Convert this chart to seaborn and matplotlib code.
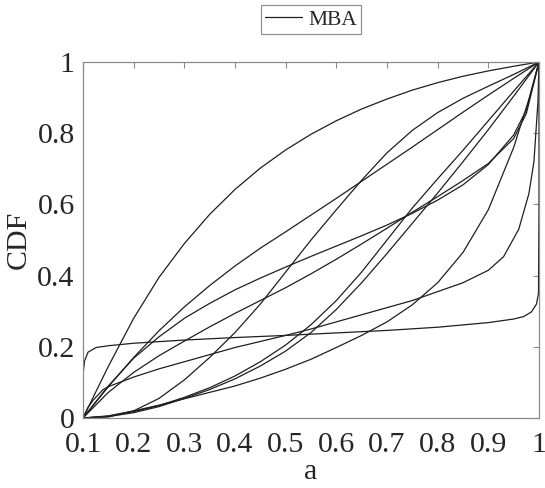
import matplotlib
matplotlib.use("Agg")
import matplotlib.pyplot as plt
from matplotlib.lines import Line2D
import seaborn as sns
import pandas as pd

# ---- data ----
x_grid = [0.1, 0.15, 0.2, 0.25, 0.3, 0.35, 0.4, 0.45, 0.5, 0.55,
          0.6, 0.65, 0.7, 0.75, 0.8, 0.85, 0.9, 0.95, 1.0]

cdf_a = [0, 0.145, 0.28, 0.395, 0.49, 0.572, 0.642, 0.702, 0.753, 0.797,
         0.835, 0.868, 0.896, 0.921, 0.942, 0.96, 0.975, 0.988, 1.0]
cdf_e = [0, 0.088, 0.17, 0.245, 0.312, 0.372, 0.427, 0.477, 0.523, 0.57,
         0.617, 0.665, 0.713, 0.761, 0.81, 0.859, 0.907, 0.954, 1.0]
cdf_i = [0, 0.003, 0.02, 0.055, 0.107, 0.17, 0.24, 0.32, 0.41, 0.50,
         0.585, 0.668, 0.745, 0.808, 0.858, 0.898, 0.932, 0.965, 1.0]
cdf_j = [0, 0.005, 0.018, 0.035, 0.058, 0.085, 0.118, 0.158, 0.205, 0.262,
         0.33, 0.41, 0.5, 0.59, 0.672, 0.752, 0.835, 0.918, 1.0]
cdf_k = [0, 0.004, 0.015, 0.032, 0.055, 0.08, 0.11, 0.146, 0.188, 0.24,
         0.305, 0.38, 0.462, 0.547, 0.632, 0.72, 0.81, 0.904, 1.0]

x_fg = [0.1, 0.15, 0.2, 0.25, 0.3, 0.35, 0.4, 0.45, 0.5, 0.55, 0.6, 0.65,
        0.7, 0.75, 0.8, 0.85, 0.9, 0.95, 0.975, 1.0]
cdf_f = [0, 0.09, 0.168, 0.228, 0.28, 0.322, 0.36, 0.393, 0.424, 0.454,
         0.483, 0.512, 0.542, 0.575, 0.612, 0.655, 0.712, 0.795, 0.865, 1.0]
cdf_g = [0, 0.072, 0.128, 0.175, 0.216, 0.256, 0.294, 0.33, 0.366, 0.405,
         0.446, 0.489, 0.533, 0.578, 0.622, 0.667, 0.715, 0.785, 0.855, 1.0]

x_b = [0.1, 0.1, 0.103, 0.11, 0.126, 0.15, 0.2, 0.3, 0.4, 0.5, 0.6, 0.7,
       0.8, 0.9, 0.95, 0.97, 0.985, 0.995, 0.999, 1.0, 1.0]
cdf_b = [0, 0.12, 0.16, 0.185, 0.198, 0.203, 0.21, 0.219, 0.226, 0.232,
         0.239, 0.246, 0.255, 0.268, 0.278, 0.285, 0.298, 0.32, 0.35, 0.6, 1.0]

x_h = [0.1, 0.11, 0.12, 0.139, 0.15, 0.2, 0.25, 0.3, 0.35, 0.4, 0.45, 0.5,
       0.55, 0.6, 0.65, 0.7, 0.75, 0.8, 0.85, 0.9, 0.93, 0.96, 0.98, 0.99,
       0.998, 1.0]
cdf_h = [0, 0.03, 0.05, 0.079, 0.088, 0.115, 0.138, 0.158, 0.178, 0.198,
         0.215, 0.232, 0.25, 0.27, 0.29, 0.31, 0.33, 0.355, 0.38, 0.415,
         0.453, 0.53, 0.63, 0.72, 0.89, 1.0]

x_l = [0.1, 0.15, 0.2, 0.25, 0.3, 0.35, 0.4, 0.45, 0.5, 0.55, 0.6, 0.65,
       0.7, 0.75, 0.8, 0.85, 0.9, 0.95, 0.98, 1.0]
cdf_l = [0, 0.006, 0.02, 0.036, 0.054, 0.072, 0.09, 0.112, 0.137, 0.165,
         0.198, 0.232, 0.27, 0.318, 0.38, 0.465, 0.585, 0.76, 0.895, 1.0]

x_ticks = [0.1, 0.2, 0.3, 0.4, 0.5, 0.6, 0.7, 0.8, 0.9, 1.0]
x_tick_labels = ["0.1", "0.2", "0.3", "0.4", "0.5", "0.6", "0.7", "0.8", "0.9", "1"]
y_ticks = [0, 0.2, 0.4, 0.6, 0.8, 1.0]
y_tick_labels = ["0", "0.2", "0.4", "0.6", "0.8", "1"]
legend_label = "MBA"

# ---- build long table ----
series = [
    ("a", x_grid, cdf_a), ("b", x_b, cdf_b), ("e", x_grid, cdf_e),
    ("f", x_fg, cdf_f), ("g", x_fg, cdf_g), ("h", x_h, cdf_h),
    ("i", x_grid, cdf_i), ("j", x_grid, cdf_j), ("k", x_grid, cdf_k),
    ("l", x_l, cdf_l),
]
rows = []
for name, xs, ys in series:
    for order, (xv, yv) in enumerate(zip(xs, ys)):
        rows.append({"curve": name, "order": order, "a": xv, "cdf": yv})
df = pd.DataFrame(rows)

sns.set_style("white")
plt.rcParams["font.family"] = ["Liberation Serif", "DejaVu Serif"]

fig = plt.figure(figsize=(5.45, 4.88), dpi=100)
ax = fig.add_axes([83 / 545, 70 / 488, 456 / 545, 356 / 488])

line_color = "#1f1f1f"
for name, sub in df.groupby("curve", sort=False):
    sns.lineplot(data=sub, x="a", y="cdf", ax=ax, color=line_color,
                 linewidth=0.9, sort=False, estimator=None, legend=False)

ax.set_xlim(0.1, 1.0)
ax.set_ylim(0, 1.0)
ax.set_xticks(x_ticks)
ax.set_xticklabels(x_tick_labels)
ax.set_yticks(y_ticks)
ax.set_yticklabels(y_tick_labels)

frame_color = "#8a8a8a"
for sp in ax.spines.values():
    sp.set_visible(True)
    sp.set_color(frame_color)
    sp.set_linewidth(0.9)

ax.tick_params(axis="both", which="major", direction="in", length=4,
               width=0.8, color=frame_color, labelsize=21.5,
               labelcolor="#262626", top=True, right=True)
ax.tick_params(axis="x", pad=10)
ax.tick_params(axis="y", pad=6)

ax.set_xlabel("a", fontsize=21.5, color="#262626", labelpad=1)
ax.set_ylabel("CDF", fontsize=21.5, color="#262626", labelpad=4)

handle = Line2D([0], [0], color=line_color, linewidth=0.9)
leg = fig.legend([handle], [legend_label], loc="center",
                 bbox_to_anchor=(311 / 545, 1 - 19.5 / 488),
                 fontsize=15.5, frameon=True, fancybox=False,
                 edgecolor="#777777", handlelength=1.7, handletextpad=0.3,
                 borderpad=0.2, borderaxespad=0)
leg.get_frame().set_linewidth(0.9)

fig.savefig("out.png", dpi=100)
